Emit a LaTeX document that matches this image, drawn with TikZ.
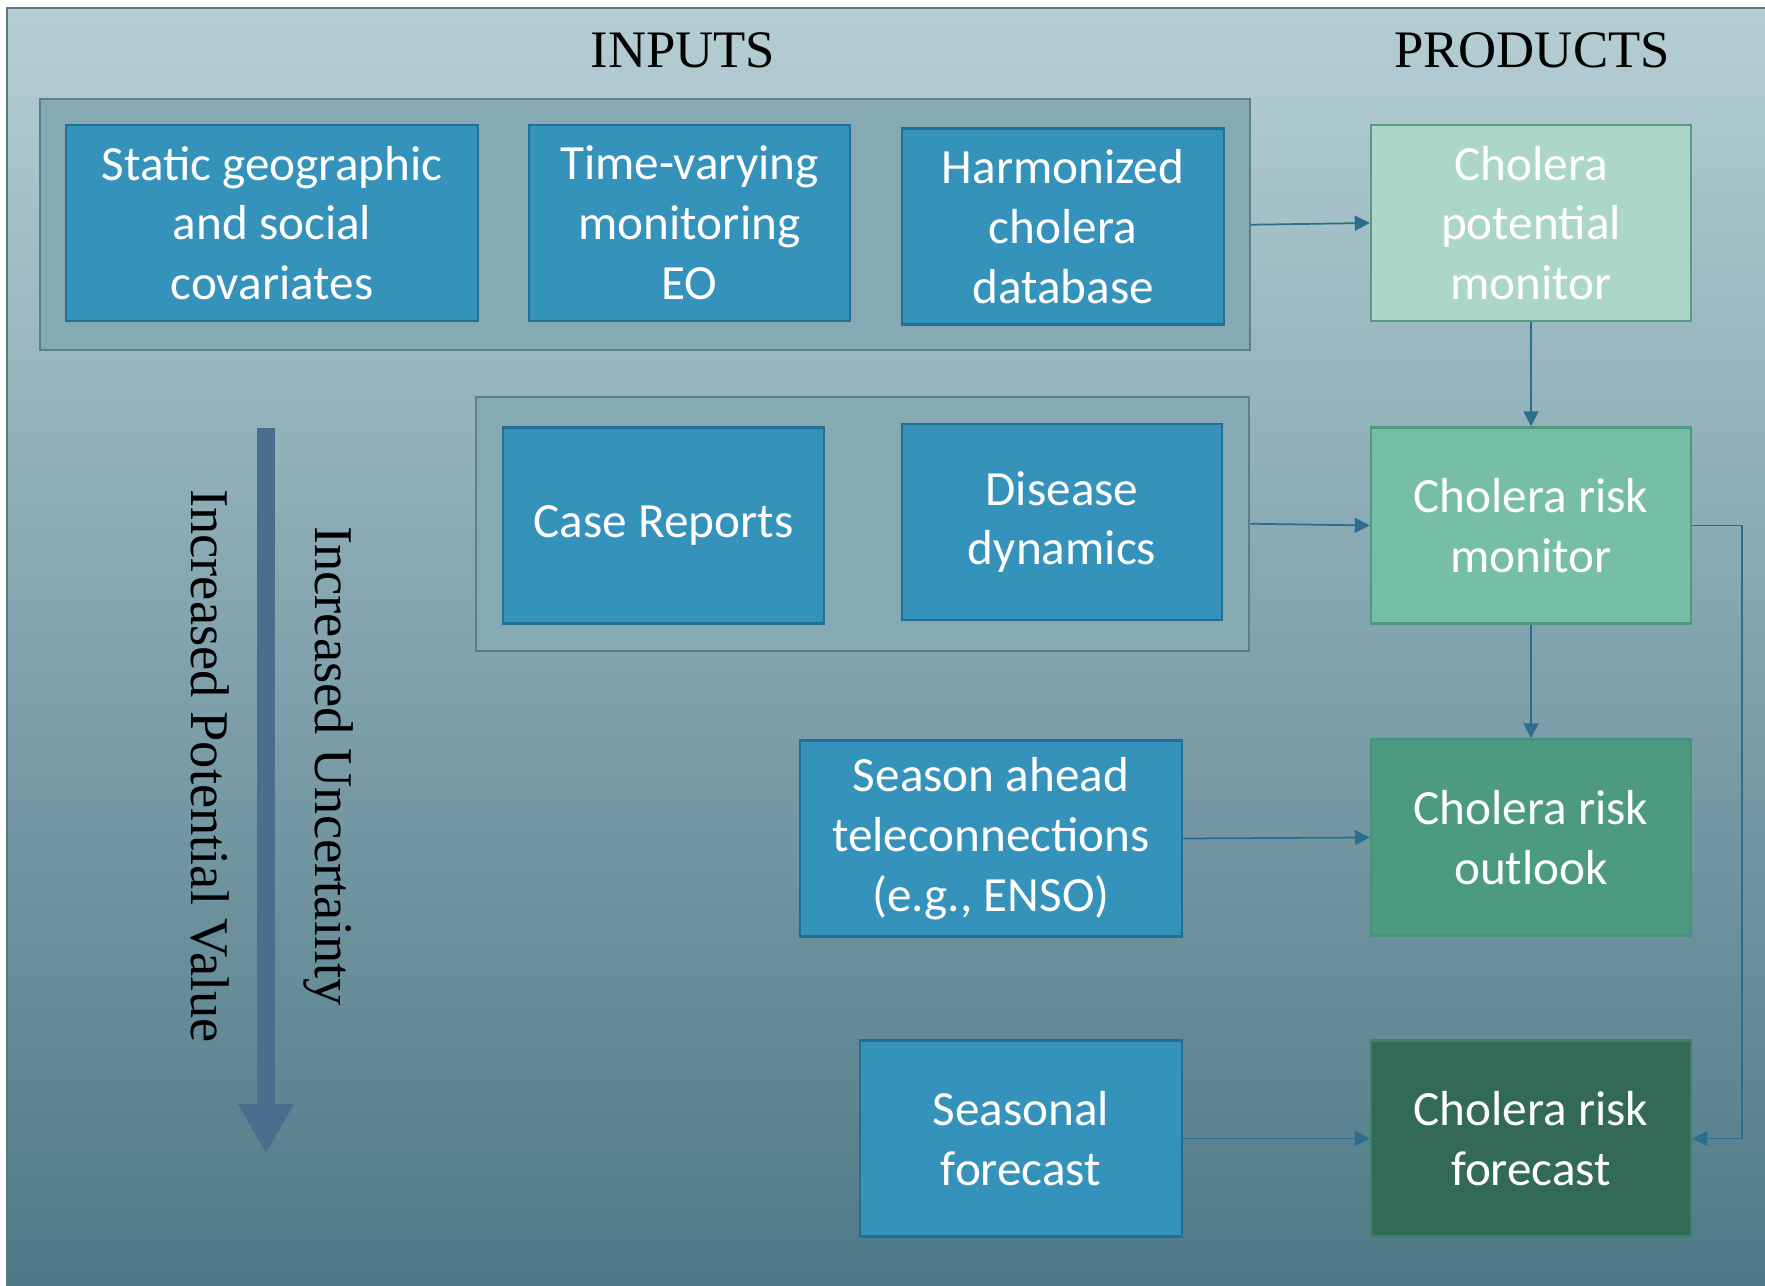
\documentclass[tikz,border=0pt]{standalone}
\usepackage{fontspec}
\setmainfont{Liberation Serif}
\newfontfamily\calfont{Carlito}
\usetikzlibrary{arrows.meta,fit,positioning,backgrounds}

\definecolor{bgtop}{HTML}{B5CED4}
\definecolor{bgmid}{HTML}{8CADB7}
\definecolor{bgbot}{HTML}{4E7886}
\definecolor{frameedge}{HTML}{5F7980}
\definecolor{grpfill}{HTML}{86AAB3}
\definecolor{grpedge}{HTML}{5E7F88}
\definecolor{infill}{HTML}{3593BB}
\definecolor{inedge}{HTML}{236E93}
\definecolor{potfill}{HTML}{ADD6CA}
\definecolor{potedge}{HTML}{5B9A82}
\definecolor{monfill}{HTML}{76BEA6}
\definecolor{monedge}{HTML}{4C9A80}
\definecolor{outfill}{HTML}{4C9A80}
\definecolor{outedge}{HTML}{46937A}
\definecolor{fcfill}{HTML}{326957}
\definecolor{fcedge}{HTML}{3F8069}
\definecolor{linkcol}{HTML}{2B6E8E}
\definecolor{bigcol}{HTML}{4B6E8F}

\begin{document}
\begin{tikzpicture}[>={Triangle[length=1.5mm,width=1.5mm]},
      inbox/.style={draw=inedge,fill=infill,line width=0.7pt,text=white,align=center,
        minimum height=1.96cm,inner sep=0pt,font=\calfont\fontsize{14}{17}\selectfont},
      prodbox/.style={draw,line width=0.7pt,text=white,align=center,minimum width=3.2cm,
        minimum height=1.96cm,inner sep=0pt,font=\calfont\fontsize{14}{17}\selectfont},
      grpbox/.style={draw=grpedge,fill=grpfill,line width=0.6pt},
      flowline/.style={->,draw=linkcol,line width=0.5pt},
      headtxt/.style={font=\fontsize{15}{18}\selectfont},
      sidetext/.style={rotate=-90,font=\fontsize{15.5}{18}\selectfont}]
	\useasboundingbox (0,0) rectangle (17.65,12.85);
	\begin{scope}[on background layer]
		\fill[white] (0,0) rectangle (17.65,12.85);
		\shadedraw[top color=bgtop,middle color=bgmid,bottom color=bgbot,draw=frameedge,line width=0.6pt]
			(0.07,-0.1) rectangle (17.8,12.77);
	\end{scope}
	% headings
	\node[headtxt] (inputs) at (6.83,12.35) {INPUTS};
	\node[headtxt] (products) at (15.32,12.35) {PRODUCTS};
	% inputs
	\node[inbox,minimum width=4.12cm] (static) at (2.72,10.62) {Static geographic\\and social\\covariates};
	\node[inbox,minimum width=3.21cm] (timevar) at (6.895,10.62) {Time-varying\\monitoring\\EO};
	\node[inbox,minimum width=3.22cm] (harm) at (10.63,10.585) {Harmonized\\cholera\\database};
	\node[inbox,minimum width=3.21cm] (cases) at (6.635,7.595) {Case Reports};
	\node[inbox,minimum width=3.20cm] (dyn) at (10.62,7.63) {Disease\\dynamics};
	\node[inbox,minimum width=3.82cm] (ahead) at (9.91,4.465) {Season ahead\\teleconnections\\(e.g., ENSO)};
	\node[inbox,minimum width=3.22cm] (seasfc) at (10.21,1.465) {Seasonal\\forecast};
	% products
	\node[prodbox,draw=potedge,fill=potfill] (pot) at (15.31,10.62) {Cholera\\potential\\monitor};
	\node[prodbox,draw=monedge,fill=monfill] (riskmon) at (15.31,7.595) {Cholera risk\\monitor};
	\node[prodbox,draw=outedge,fill=outfill] (outlook) at (15.31,4.475) {Cholera risk\\outlook};
	\node[prodbox,draw=fcedge,fill=fcfill] (forecast) at (15.31,1.465) {Cholera risk\\forecast};
	\begin{scope}[on background layer]
		\node[grpbox,inner sep=0.245cm,fit=(static) (timevar) (harm)] (grp1) {};
		\node[grpbox,inner sep=0.26cm,fit=(cases) (dyn)] (grp2) {};
	\end{scope}
	% value / uncertainty arrow
	\coordinate (valtop) at (2.66,8.57);
	\coordinate (valbot) at (2.66,1.31);
	\draw[draw=bigcol,line width=0.18cm,-{Triangle[length=5mm,width=5.2mm]}] (valtop) -- (valbot);
	\node[sidetext] (potval) at (2.10,5.19) {Increased Potential Value};
	\node[sidetext] (uncert) at (3.29,5.19) {Increased Uncertainty};
	% links
	\path
		(grp1.east) edge[flowline] (pot.west)
		(pot) edge[flowline] (riskmon)
		(grp2.east) edge[flowline] (riskmon.west)
		(riskmon) edge[flowline] (outlook)
		(ahead.east) edge[flowline] (outlook.west)
		(seasfc.east) edge[flowline] (forecast.west);
	\draw[flowline] (riskmon.east) -- ++(0.5,0) |- (forecast.east);
\end{tikzpicture}
\end{document}
